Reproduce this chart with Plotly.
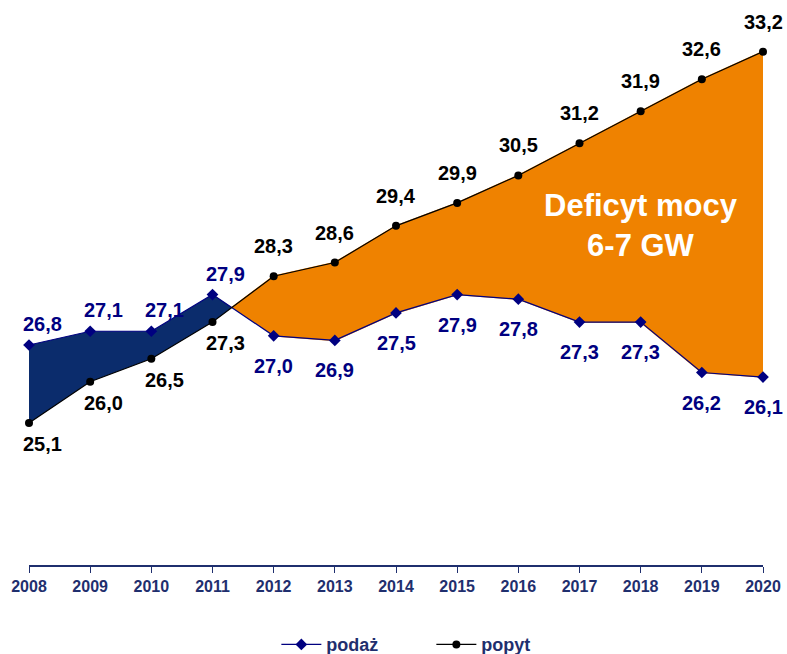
import plotly.graph_objects as go

years = [2008, 2009, 2010, 2011, 2012, 2013, 2014, 2015, 2016, 2017, 2018, 2019, 2020]
podaz = [26.8, 27.1, 27.1, 27.9, 27.0, 26.9, 27.5, 27.9, 27.8, 27.3, 27.3, 26.2, 26.1]
popyt = [25.1, 26.0, 26.5, 27.3, 28.3, 28.6, 29.4, 29.9, 30.5, 31.2, 31.9, 32.6, 33.2]

NAVY = "#000080"
NAVY_FILL = "#0b2c6c"
ORANGE = "#ef8200"
AXIS = "#1f2f6e"
FONT = "Arial, Liberation Sans, sans-serif"

# crossing point between the two series (between 2011 and 2012)
i = 3
d0 = podaz[i] - popyt[i]
d1 = podaz[i + 1] - popyt[i + 1]
t = d0 / (d0 - d1)
xc = years[i] + t * (years[i + 1] - years[i])
yc = podaz[i] + t * (podaz[i + 1] - podaz[i])

fig = go.Figure()

# surplus area (supply above demand)
sx = years[:4] + [xc] + years[:4][::-1]
sy = podaz[:4] + [yc] + popyt[:4][::-1]
fig.add_trace(go.Scatter(x=sx, y=sy, fill="toself", fillcolor=NAVY_FILL, mode="lines",
                         line=dict(width=0, color=NAVY_FILL), showlegend=False, hoverinfo="skip"))

# deficit area
dx = [xc] + years[4:] + years[4:][::-1]
dy = [yc] + popyt[4:] + podaz[4:][::-1]
fig.add_trace(go.Scatter(x=dx, y=dy, fill="toself", fillcolor=ORANGE, mode="lines",
                         line=dict(width=1.5, color=ORANGE), showlegend=False, hoverinfo="skip"))

fig.add_trace(go.Scatter(x=years, y=podaz, name="<b>podaż</b>", mode="lines+markers",
                         line=dict(color=NAVY, width=1.2), cliponaxis=False,
                         marker=dict(symbol="diamond", size=9, color=NAVY)))
fig.add_trace(go.Scatter(x=years, y=popyt, name="<b>popyt</b>", mode="lines+markers",
                         line=dict(color="black", width=1.2), cliponaxis=False,
                         marker=dict(symbol="circle", size=8, color="black")))

def fmt(v):
    return f"{v:.1f}".replace(".", ",")

for k, (x, s, d) in enumerate(zip(years, podaz, popyt)):
    left = k < 4
    xs = 13 if left else 0
    off = 21 if left else 30
    fig.add_annotation(x=x, y=s, text=f"<b>{fmt(s)}</b>", showarrow=False,
                       xshift=xs, yshift=off if left else -off,
                       font=dict(family=FONT, size=20, color=NAVY))
    fig.add_annotation(x=x, y=d, text=f"<b>{fmt(d)}</b>", showarrow=False,
                       xshift=xs, yshift=-off if left else off,
                       font=dict(family=FONT, size=20, color="black"))

fig.add_annotation(x=2018.0, y=29.4, text="<b>Deficyt mocy<br>6-7 GW</b>", showarrow=False,
                   font=dict(family=FONT, size=31, color="white"))

fig.update_layout(
    width=787, height=654,
    margin=dict(l=29, r=24, t=15, b=89, autoexpand=False),
    paper_bgcolor="white", plot_bgcolor="white",
    showlegend=True,
    legend=dict(orientation="h", x=0.337, xanchor="left", y=-0.145, yanchor="middle",
                font=dict(family=FONT, size=18, color=AXIS), itemwidth=40,
                entrywidth=100, entrywidthmode="pixels",
                bgcolor="rgba(0,0,0,0)"),
    font=dict(family=FONT),
)
fig.update_xaxes(range=[2008, 2020], tickmode="array", tickvals=years,
                 ticktext=[f"<b>{y}</b>" for y in years], automargin=False,
                 showgrid=False, zeroline=False, showline=True, linecolor=AXIS, linewidth=1.5,
                 ticks="outside", ticklen=6, tickcolor=AXIS,
                 tickfont=dict(family=FONT, size=16, color=AXIS))
fig.update_yaxes(range=[22, 34], visible=False, showgrid=False, zeroline=False, automargin=False)

fig.write_html("out.html")
